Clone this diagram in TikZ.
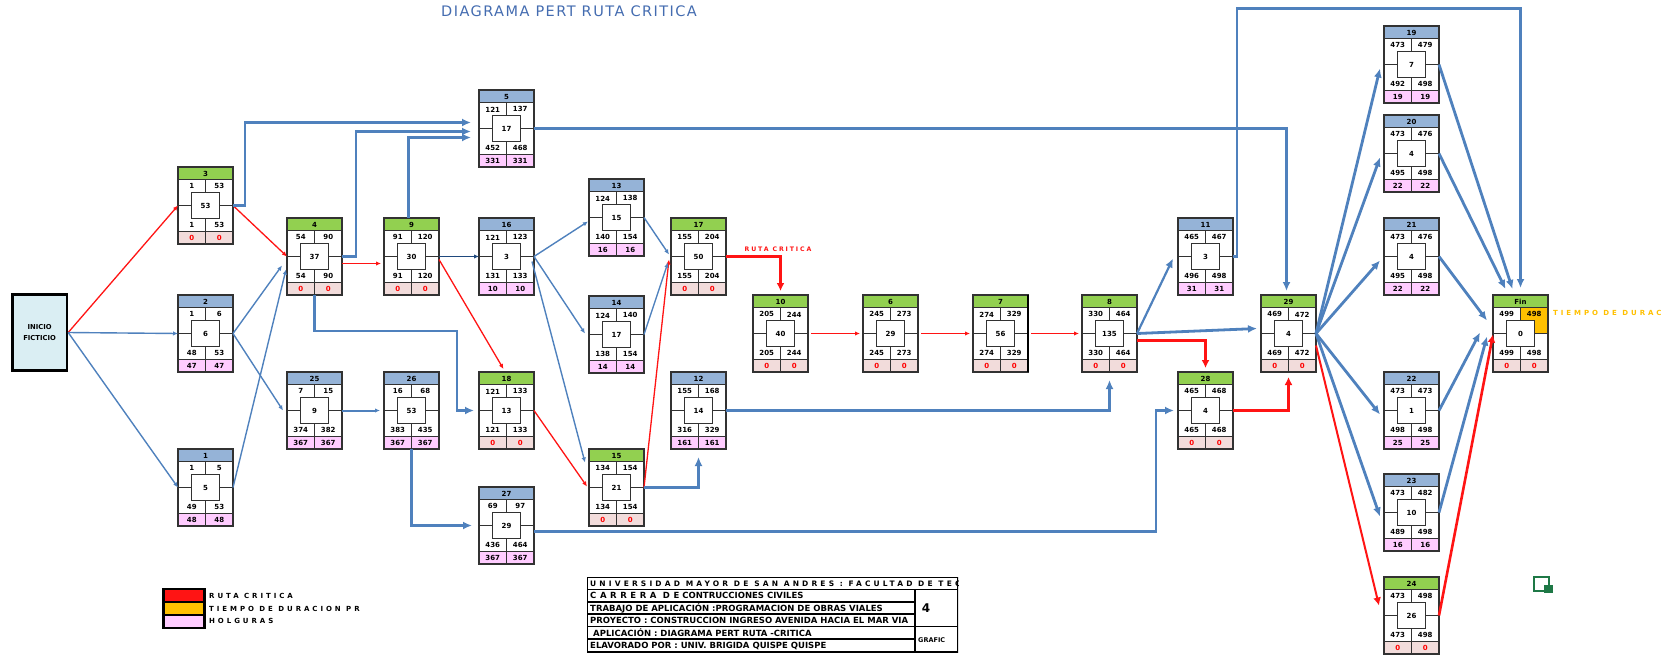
\documentclass[tikz,border=0pt]{standalone}
\usepackage{fontspec}
\setmainfont{DejaVu Sans}
\newfontfamily\espaciada[LetterSpace=30]{DejaVu Sans}
\newfontfamily\ancha[LetterSpace=42]{DejaVu Sans}
\newfontfamily\titfont[LetterSpace=10]{DejaVu Sans}
\usepackage{tikz}
\usetikzlibrary{
  arrows.meta,
  calc
}
\usepackage{xcolor}
\definecolor{hdc}{RGB}{146, 208, 80}
\definecolor{hdn}{RGB}{149, 179, 215}
\definecolor{slc}{RGB}{242, 220, 219}
\definecolor{sln}{RGB}{255, 204, 255}
\definecolor{txc}{RGB}{255, 0, 0}
\definecolor{txn}{RGB}{0, 0, 0}
\definecolor{rojo}{RGB}{255, 20, 20}
\definecolor{azul}{RGB}{79, 129, 189}
\definecolor{azulosc}{RGB}{31, 73, 125}
\definecolor{durac}{RGB}{255, 192, 0}
\definecolor{holg}{RGB}{255, 204, 255}
\definecolor{inicioc}{RGB}{218, 238, 243}
\definecolor{borde}{RGB}{50, 50, 50}
\definecolor{titc}{RGB}{68, 108, 176}
\definecolor{verdeico}{RGB}{30, 120, 70}
\tikzset{
  % caja de cada actividad
  actbox/.style   = {draw=borde, line width=1.1pt, anchor=north west,
                     minimum width=55pt, minimum height=77pt,
                     inner sep=0pt, outer sep=0pt},
  celda/.style    = {draw=borde, line width=1pt},
  num/.style      = {font=\bfseries\fontsize{7}{7}\selectfont, inner sep=0pt},
  % nodo de inicio
  inicio/.style   = {draw=black, line width=2.7pt, fill=inicioc,
                     minimum width=54.5pt, minimum height=75.5pt, align=center,
                     font=\bfseries\fontsize{6.8}{10.5}\selectfont},
  % flechas
  ruta/.style     = {draw=rojo, line width=1.3pt, -{Latex[length=5pt,width=4.5pt]}},
  rutag/.style    = {draw=rojo, line width=2.6pt, -{Latex[length=8pt,width=8pt]}},
  flecha/.style   = {draw=azul, line width=1.4pt, -{Latex[length=5pt,width=4.5pt]}},
  flechag/.style  = {draw=azul, line width=2.8pt, -{Latex[length=9pt,width=8pt]}},
  flechao/.style  = {draw=azulosc, line width=1.4pt, -{Latex[length=5pt,width=4.5pt]}},
  % textos
  titulo/.style   = {text=titc, font=\titfont\fontsize{14.5}{14.5}\selectfont, inner sep=0pt},
  rotulo/.style   = {font=\espaciada\bfseries\fontsize{6.2}{6.5}\selectfont, inner sep=0pt},
  leyenda/.style  = {anchor=west, font=\ancha\bfseries\fontsize{7}{7}\selectfont, inner sep=0pt},
  tabla/.style    = {anchor=west, font=\bfseries\fontsize{8.5}{9}\selectfont, inner sep=0pt},
}
\begin{document}
\begin{tikzpicture}[x=1pt,y=-1pt]
  \useasboundingbox (0,0) rectangle (1674,654);
  % titulo
  \node[titulo] (tit) at (569,11.5) {DIAGRAMA PERT RUTA CRITICA};
  % inicio ficticio
  \node[inicio] (ini) at (39.6,332.5) {INICIO\\FICTICIO};
  % celda naranja del Fin (tiempo de duracion)
  \fill[durac] (1520.5,307.7) rectangle (1548,333.5);
  % actividades: nombre/x/y/tipo/IC/TC/duracion/IL/TL/holgura
  \foreach \n/\x/\y/\t/\es/\ef/\d/\ls/\lf/\h in {
    3/178/167/c/1/53/53/1/53/0,
    2/178/295/n/1/6/6/48/53/47,
    1/178/449/n/1/5/5/49/53/48,
    4/287/218/c/54/90/37/54/90/0,
    25/287/372/n/7/15/9/374/382/367,
    9/384/218/c/91/120/30/91/120/0,
    26/384/372/n/16/68/53/383/435/367,
    5/479/90/n/121/137/17/452/468/331,
    16/479/218/n/121/123/3/131/133/10,
    18/479/372/c/121/133/13/121/133/0,
    27/479/487/n/69/97/29/436/464/367,
    13/589/179/n/124/138/15/140/154/16,
    14/589/296/n/124/140/17/138/154/14,
    15/589/449/c/134/154/21/134/154/0,
    17/671/218/c/155/204/50/155/204/0,
    12/671/372/n/155/168/14/316/329/161,
    10/753/295/c/205/244/40/205/244/0,
    6/863/295/c/245/273/29/245/273/0,
    7/973/295/c/274/329/56/274/329/0,
    8/1082/295/c/330/464/135/330/464/0,
    11/1178/218/n/465/467/3/496/498/31,
    28/1178/372/c/465/468/4/465/468/0,
    29/1261/295/c/469/472/4/469/472/0,
    19/1384/26/n/473/479/7/492/498/19,
    20/1384/115/n/473/476/4/495/498/22,
    21/1384/218/n/473/476/4/495/498/22,
    22/1384/372/n/473/473/1/498/498/25,
    23/1384/474/n/473/482/10/489/498/16,
    24/1384/577/c/473/498/26/473/498/0,
    Fin/1493/295/c/499/498/0/499/498/0}{
    \begin{scope}[shift={(\x,\y)}]
      \fill[fill=hd\t] (0,0) rectangle (55,12.7);
      \fill[fill=sl\t] (0,64.3) rectangle (55,77);
      \draw[celda] (0,12.7) -- (55,12.7) (0,64.3) -- (55,64.3)
        (0,38.5) -- (13.5,38.5) (41.5,38.5) -- (55,38.5)
        (27.5,12.7) -- (27.5,25.7) (27.5,51.7) -- (27.5,77);
      \draw[celda, fill=white] (13.5,25.7) rectangle (41.5,51.7);
      \node[num] at (27.5,6.6) {\n};
      \node[num] at (13.75,19.4) {\es};
      \node[num] at (41.25,19.4) {\ef};
      \node[num] at (27.5,38.7) {\d};
      \node[num] at (13.75,58.2) {\ls};
      \node[num] at (41.25,58.2) {\lf};
      \node[num, text=tx\t] at (13.75,70.8) {\h};
      \node[num, text=tx\t] at (41.25,70.8) {\h};
    \end{scope}
    \node[actbox] (a\n) at (\x,\y) {};
  }
  \draw[line width=2pt] (a7.north east) -- (a7.south east);

  % ruta critica
  \draw[ruta] (ini.east) -- (a3.west);
  \draw[ruta] (a3.east) -- (a4.west);
  \draw[ruta] ($(a4.east)+(0,7)$) -- ($(a9.west)+(-3,7)$);
  \draw[ruta] ($(a9.east)+(0,3)$) -- ($(a18.north)+(-3,-3)$);
  \draw[ruta] (a18.east) -- ($(a15.west)+(-2,-1)$);
  \draw[ruta] (a15.east) -- ($(a17.west)+(-2,3)$);
  \draw[rutag] (a17.east) -| ($(a10.north)+(0,-4)$);
  \draw[ruta, shorten <=3pt, shorten >=3pt] (a10.east) -- (a6.west);
  \draw[ruta, shorten <=3pt, shorten >=3pt] (a6.east) -- (a7.west);
  \draw[ruta, shorten <=3pt, shorten >=3pt] (a7.east) -- (a8.west);
  \draw[rutag] ($(a8.east)+(0,7)$) -| ($(a28.north)+(0,-4)$);
  \draw[rutag] (a28.east) -| ($(a29.south)+(0,5)$);
  \draw[rutag, line width=2pt] ($(a29.east)+(0,12)$) -- ($(a24.west)+(-5,-10)$);
  \draw[rutag] (a24.east) -- ($(aFin.west)+(0,1)$);
  \node[rotulo, text=rojo] (rc) at (778,249) {RUTA CRITICA};

  % actividades no criticas
  \draw[flecha] (ini.east) -- (a2.west);
  \draw[flecha] (ini.east) -- (a1.west);
  \draw[flecha] (a2.east) -- ($(a4.west)+(-5,9)$);
  \draw[flecha] (a2.east) -- ($(a25.west)+(-4,0)$);
  \draw[flecha] (a1.east) -- ($(a4.west)+(-1,13)$);
  \draw[flechag] (a3.east) -- ++(12,0) |- ($(a5.west)+(-8,-6)$);
  \draw[flechag] (a4.east) -- ++(14,0) |- ($(a5.west)+(-8,3)$);
  \draw[flechag] ($(a9.north)+(-3,0)$) |- ($(a5.west)+(-8,9)$);
  \draw[flechag] (a5.east) -| ($(a29.north)+(-2,-4)$);
  \draw[flechag] (a4.south) -- ++(0,36) -| ($(a18.west)+(-22,0)$) -- ($(a18.west)+(-5,0)$);
  \draw[flechao] (a9.east) -- (a16.west);
  \draw[flecha] (a16.east) -- ($(a13.west)+(-1,4)$);
  \draw[flecha] (a16.east) -- ($(a14.west)+(-4,-1)$);
  \draw[flecha] ($(a16.east)+(-2,5)$) -- ($(a15.west)+(-4,-25)$);
  \draw[flecha] (a13.east) -- ($(a17.west)+(-2,-2)$);
  \draw[flecha] (a14.east) -- ($(a17.west)+(-3,6)$);
  \draw[flechag] (a15.east) -| ($(a12.south)+(0,8)$);
  \draw[flechag] (a12.east) -| ($(a8.south)+(0,8)$);
  \draw[flecha, line width=2pt] (a25.east) -- ($(a26.west)+(-4,0)$);
  \draw[flechag] (a26.south) |- ($(a27.west)+(-7,0)$);
  \draw[flechag] ($(a27.east)+(0,6)$) -| ($(a28.west)+(-22,0)$) -- ($(a28.west)+(-4,0)$);
  \draw[flechag, line width=2.2pt] (a8.east) -- ($(a11.west)+(-5,2)$);
  \draw[flechag] (a8.east) -- ($(a29.west)+(-4,-5)$);
  \draw[flechag] (a11.east) -- ++(4,0) -- ++(0,-248) -| ($(aFin.north)+(0,-7)$);
  \foreach \k in {19,20,21,22,23}
    \draw[flechag] (a29.east) -- ($(a\k.west)+(-4,4)$);
  \draw[flechag] (a19.east) -- ($(aFin.north)+(-8,-6)$);
  \draw[flechag] (a20.east) -- ($(aFin.north)+(-15,-6)$);
  \draw[flechag] (a21.east) -- ($(aFin.west)+(-6,-13)$);
  \draw[flechag] (a22.east) -- ($(aFin.west)+(-13,-1)$);
  \draw[flechag] (a23.east) -- ($(aFin.west)+(-6,3)$);
  \node[anchor=west, text=durac, inner sep=0pt, font=\ancha\bfseries\fontsize{7}{7}\selectfont]
    (td) at (1553,313) {TIEMPO DE DURAC};

  % leyenda
  \fill[black] (161.7,587.7) rectangle (206,629);
  \fill[rojo] (165,590) rectangle (203.3,601);
  \fill[durac] (165,603.3) rectangle (203.3,614);
  \fill[holg] (165,616) rectangle (203.3,626.7);
  \node[leyenda] (l1) at (209,595.5) {RUTA  CRITICA};
  \node[leyenda] (l2) at (209,608.6) {TIEMPO DE DURACION PR};
  \node[leyenda] (l3) at (209,621.3) {HOLGURAS};

  % cuadro de datos
  \begin{scope}
    \clip (587,577) rectangle (958,653);
    \draw[line width=1.6pt] (587,577) rectangle (958,652);
    \draw[line width=1.4pt] (587,589.5) -- (958,589.5)
      (587,602) -- (915,602) (587,614) -- (915,614)
      (587,626.5) -- (958,626.5) (587,639) -- (915,639)
      (915,589.5) -- (915,652);
    \node[tabla, font=\ancha\bfseries\fontsize{7.5}{8}\selectfont] (t1) at (590,583.3)
      {UNIVERSIDAD MAYOR DE SAN ANDRES : FACULTAD DE TEC};
    \node[tabla] (t2) at (590,595.8)
      {{\ancha CARRERA DE} CONTRUCCIONES CIVILES};
    \node[tabla] (t3) at (590,608)
      {TRABAJO DE APLICACIÓN :PROGRAMACION DE OBRAS VIALES};
    \node[tabla] (t4) at (590,620.3)
      {PROYECTO : CONSTRUCCION INGRESO AVENIDA HACIA EL MAR VIA};
    \node[tabla] (t5) at (593,632.8)
      {APLICACIÓN : DIAGRAMA PERT RUTA -CRITICA};
    \node[tabla] (t6) at (590,645.5)
      {ELAVORADO POR : UNIV. BRIGIDA QUISPE QUISPE};
    \node[font=\bfseries\fontsize{12}{12}\selectfont, inner sep=0pt] (t7) at (926,608) {4};
    \node[tabla, font=\bfseries\fontsize{6.5}{6.5}\selectfont] (t8) at (918,640) {GRAFIC};
  \end{scope}

  % icono
  \draw[verdeico, line width=2pt] (1534,576.5) rectangle (1549,591);
  \fill[verdeico] (1544,585) rectangle (1553,593.3);
\end{tikzpicture}
\end{document}
